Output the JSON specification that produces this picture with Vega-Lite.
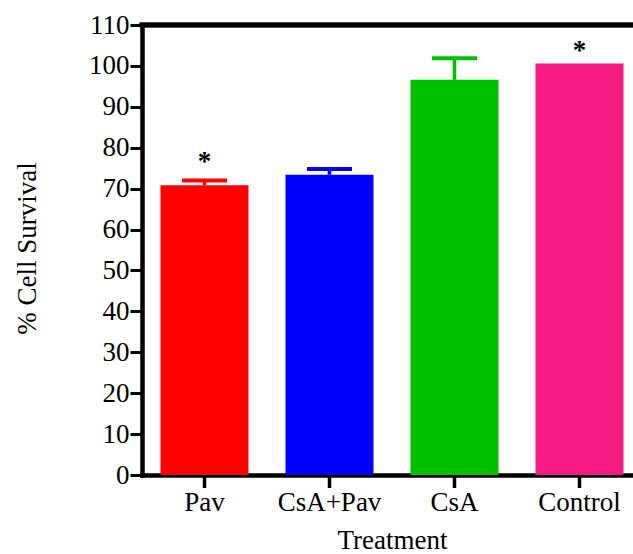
{
  "$schema": "https://vega.github.io/schema/vega-lite/v6.json",
  "width": 491,
  "height": 450,
  "autosize": {"type": "none"},
  "padding": {"left": 142, "top": 25, "right": 0, "bottom": 79},
  "background": "white",
  "config": {
    "view": {"stroke": null},
    "font": "Liberation Serif",
    "axis": {"grid": false, "labelFont": "Liberation Serif", "titleFont": "Liberation Serif"}
  },
  "data": {
    "values": [
      {"treatment": "Pav", "mean": 70.8, "upper": 72.0, "star": 78.0},
      {"treatment": "CsA+Pav", "mean": 73.4, "upper": 74.8},
      {"treatment": "CsA", "mean": 96.6, "upper": 101.9},
      {"treatment": "Control", "mean": 100.6, "upper": 100.6, "star": 105.0}
    ]
  },
  "layer": [
    {
      "mark": {"type": "bar"},
      "encoding": {
        "x": {
          "field": "treatment",
          "type": "nominal",
          "sort": ["Pav", "CsA+Pav", "CsA", "Control"],
          "scale": {"range": [0, 500], "paddingInner": 0.296, "paddingOuter": 0.148},
          "axis": {
            "labelAngle": 0,
            "labelFont": "Liberation Serif",
            "labelFontSize": 27,
            "labelColor": "black",
            "labelPadding": 2,
            "tickSize": 12.5,
            "tickWidth": 3.5,
            "tickColor": "black",
            "domainWidth": 4.5,
            "domainColor": "black",
            "domainCap": "square",
            "title": "Treatment",
            "titleFont": "Liberation Serif",
            "titleFontSize": 27,
            "titleFontWeight": "normal",
            "titleColor": "black",
            "titleX": 250,
            "titleY": 73,
            "titleBaseline": "alphabetic",
            "titleAlign": "center"
          }
        },
        "y": {
          "field": "mean",
          "type": "quantitative",
          "scale": {"domain": [0, 110], "nice": false},
          "axis": {
            "values": [0, 10, 20, 30, 40, 50, 60, 70, 80, 90, 100, 110],
            "labelFont": "Liberation Serif",
            "labelFontSize": 27,
            "labelColor": "black",
            "labelPadding": 1,
            "labelFlush": false,
            "tickSize": 12,
            "tickWidth": 3,
            "tickColor": "black",
            "domainWidth": 4.5,
            "domainColor": "black",
            "domainCap": "square",
            "title": "% Cell Survival",
            "titleFont": "Liberation Serif",
            "titleFontSize": 27,
            "titleFontWeight": "normal",
            "titleColor": "black",
            "titleX": -107,
            "titleY": 223,
            "titleAngle": -90,
            "titleBaseline": "alphabetic",
            "titleAlign": "center"
          }
        },
        "color": {
          "field": "treatment",
          "type": "nominal",
          "scale": {
            "domain": ["Pav", "CsA+Pav", "CsA", "Control"],
            "range": ["#FF0000", "#0000FF", "#00C000", "#F71A82"]
          },
          "legend": null
        }
      }
    },
    {
      "transform": [{"filter": "datum.upper > datum.mean"}],
      "mark": {"type": "rule", "strokeWidth": 3.5, "opacity": 1},
      "encoding": {
        "x": {"field": "treatment", "type": "nominal", "sort": ["Pav", "CsA+Pav", "CsA", "Control"]},
        "y": {"field": "mean", "type": "quantitative"},
        "y2": {"field": "upper"},
        "color": {"field": "treatment", "type": "nominal", "legend": null}
      }
    },
    {
      "transform": [{"filter": "datum.upper > datum.mean"}],
      "mark": {"type": "tick", "orient": "horizontal", "size": 45, "thickness": 4, "opacity": 1},
      "encoding": {
        "x": {"field": "treatment", "type": "nominal", "sort": ["Pav", "CsA+Pav", "CsA", "Control"]},
        "y": {"field": "upper", "type": "quantitative"},
        "color": {"field": "treatment", "type": "nominal", "legend": null}
      }
    },
    {
      "transform": [{"filter": "isValid(datum.star)"}],
      "mark": {"type": "text", "text": "*", "fontSize": 27, "fontWeight": "bold", "font": "Liberation Serif", "baseline": "alphabetic", "dy": 14, "color": "black"},
      "encoding": {
        "x": {"field": "treatment", "type": "nominal", "sort": ["Pav", "CsA+Pav", "CsA", "Control"]},
        "y": {"field": "star", "type": "quantitative"}
      }
    },
    {
      "mark": {"type": "rule", "strokeWidth": 4.5, "color": "black", "strokeCap": "square"},
      "encoding": {"y": {"datum": 110}}
    }
  ]
}
